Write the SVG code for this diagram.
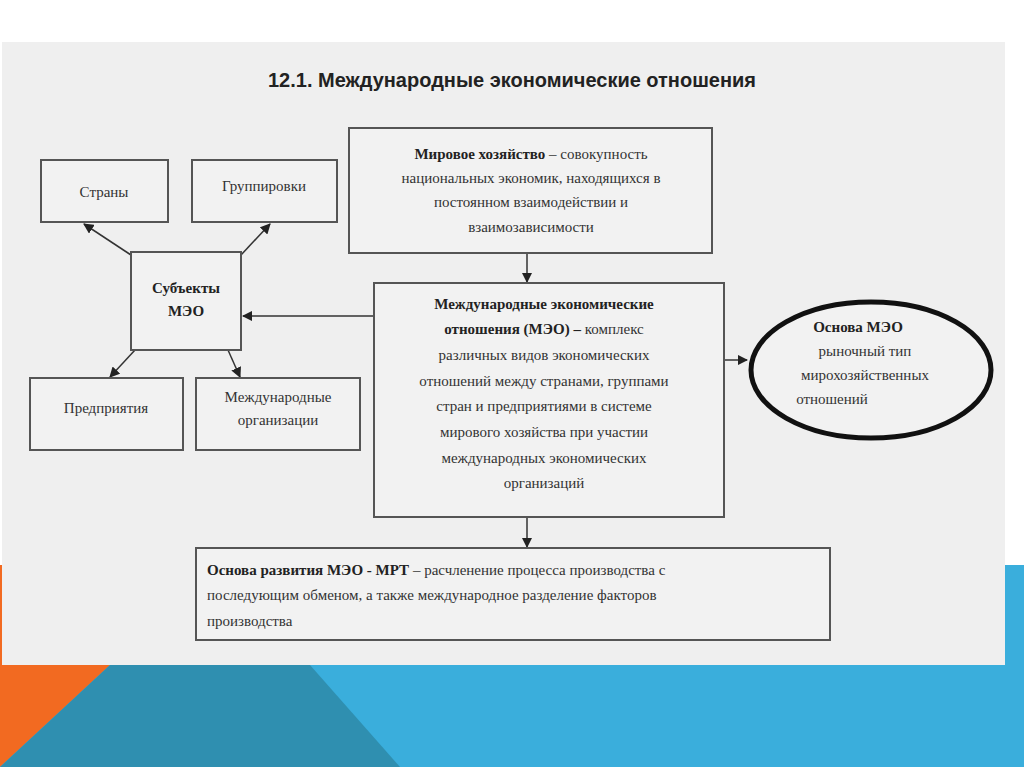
<svg xmlns="http://www.w3.org/2000/svg" width="1024" height="767" viewBox="0 0 1024 767">
<defs>
<marker id="ar" viewBox="0 0 10 10" refX="9" refY="5" markerWidth="7" markerHeight="7" orient="auto"><path d="M0,0L10,5L0,10z" fill="#222"/></marker>
<style>
.b{fill:#f2f2f2;stroke:#555;stroke-width:2}
.t{font-family:"Liberation Serif",serif;font-size:15px;fill:#333;text-anchor:middle}
.tl{font-family:"Liberation Serif",serif;font-size:15px;fill:#333}
.bd{font-weight:bold;fill:#222}
.c{stroke:#333;stroke-width:1.5;fill:none;marker-end:url(#ar)}
</style>
</defs>
<rect width="1024" height="767" fill="#fff"/>
<rect x="0" y="565" width="1024" height="202" fill="#3aaedc"/>
<polygon points="0,565 12,565 12,665 110,665 0,767" fill="#f26a21"/>
<polygon points="110,665 310,665 400,767 0,767" fill="#2f8fb0"/>
<rect x="2" y="42" width="1003" height="623" fill="#efefef"/>
<text x="512" y="87" font-family="'Liberation Sans Narrow','Liberation Sans',sans-serif" font-size="21" font-weight="bold" fill="#222" text-anchor="middle" textLength="488" lengthAdjust="spacingAndGlyphs">12.1. Международные экономические отношения</text>
<g id="connectors">
<line class="c" x1="131" y1="255" x2="84" y2="224"/>
<line class="c" x1="241" y1="255" x2="270" y2="224"/>
<line class="c" x1="135" y1="350" x2="110" y2="377"/>
<line class="c" x1="228" y1="350" x2="240" y2="377"/>
<line class="c" x1="374" y1="316" x2="243" y2="316"/>
<line class="c" x1="527" y1="253" x2="527" y2="282"/>
<line class="c" x1="724" y1="360" x2="747" y2="360"/>
<line class="c" x1="527" y1="517" x2="527" y2="547"/>
</g>
<g id="n1"><rect class="b" x="41" y="160" width="127" height="62"/><text class="t" x="104" y="197">Страны</text></g>
<g id="n2"><rect class="b" x="192" y="160" width="145" height="62"/><text class="t" x="264" y="191">Группировки</text></g>
<g id="n3"><rect class="b" x="131" y="252" width="110" height="98"/><text class="t bd" x="186" y="293">Субъекты</text><text class="t bd" x="186" y="316">МЭО</text></g>
<g id="n4"><rect class="b" x="30" y="378" width="153" height="72"/><text class="t" x="106" y="413">Предприятия</text></g>
<g id="n5"><rect class="b" x="196" y="378" width="164" height="72"/><text class="t" x="278" y="402">Международные</text><text class="t" x="278" y="425">организации</text></g>
<g id="n6"><rect class="b" x="349" y="128" width="363" height="125"/>
<text class="t" x="531" y="159"><tspan class="bd">Мировое хозяйство</tspan> – совокупность</text>
<text class="t" x="531" y="183">национальных экономик, находящихся в</text>
<text class="t" x="531" y="207">постоянном взаимодействии и</text>
<text class="t" x="531" y="232">взаимозависимости</text></g>
<g id="n7"><rect class="b" x="374" y="283" width="350" height="234"/>
<text class="t bd" x="544" y="309">Международные экономические</text>
<text class="t" x="544" y="334"><tspan class="bd">отношения (МЭО) –</tspan> комплекс</text>
<text class="t" x="544" y="360">различных видов экономических</text>
<text class="t" x="544" y="386">отношений между странами, группами</text>
<text class="t" x="544" y="411">стран и предприятиями в системе</text>
<text class="t" x="544" y="437">мирового хозяйства при участии</text>
<text class="t" x="544" y="463">международных экономических</text>
<text class="t" x="544" y="488">организаций</text></g>
<g id="n8"><ellipse cx="871" cy="370" rx="120" ry="68" fill="#f2f2f2" stroke="#111" stroke-width="5"/>
<text class="t bd" x="858" y="332">Основа МЭО</text>
<text class="t" x="865" y="356">рыночный тип</text>
<text class="t" x="865" y="380">мирохозяйственных</text>
<text class="t" x="832" y="404">отношений</text></g>
<g id="n9"><rect class="b" x="196" y="548" width="634" height="92"/>
<text class="tl" x="207" y="575"><tspan class="bd">Основа развития МЭО - МРТ</tspan> – расчленение процесса производства с</text>
<text class="tl" x="207" y="600">последующим обменом, а также международное разделение факторов</text>
<text class="tl" x="207" y="626">производства</text></g>
</svg>
